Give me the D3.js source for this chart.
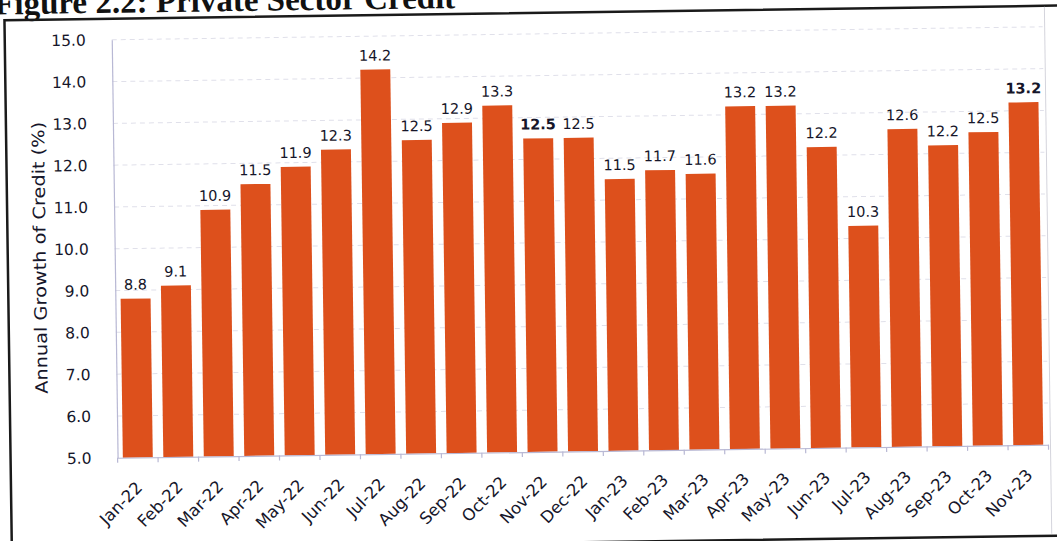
<!DOCTYPE html>
<html>
<head>
<meta charset="utf-8">
<script src="https://cdn.jsdelivr.net/npm/d3@7"></script>
<style>
  html, body { margin: 0; padding: 0; background: #ffffff; }
  svg { display: block; }
</style>
</head>
<body>
<svg id="chart" width="1057" height="541"></svg>
<script>
const months = ["Jan-22","Feb-22","Mar-22","Apr-22","May-22","Jun-22","Jul-22","Aug-22","Sep-22","Oct-22","Nov-22","Dec-22",
                "Jan-23","Feb-23","Mar-23","Apr-23","May-23","Jun-23","Jul-23","Aug-23","Sep-23","Oct-23","Nov-23"];
const credit = [8.8, 9.1, 10.9, 11.5, 11.9, 12.3, 14.2, 12.5, 12.9, 13.3, 12.5, 12.5,
                11.5, 11.7, 11.6, 13.2, 13.2, 12.2, 10.3, 12.6, 12.2, 12.5, 13.2];
const boldLabels = ["Nov-22", "Nov-23"];
const yTicks = [5, 6, 7, 8, 9, 10, 11, 12, 13, 14, 15];
const titleText = "Figure 2.2: Private Sector Credit";
const yTitle = "Annual Growth of Credit (%)";

(function () {
const svg = d3.select("#chart");
svg.append("rect").attr("width", 1057).attr("height", 541).attr("fill", "#ffffff");

// whole scan is slightly rotated
const root = svg.append("g").attr("transform", "rotate(-0.8, 528, 270)");

const textCol = "#16162a";
const font = "'DejaVu Sans', Verdana, sans-serif";

// Title
root.append("text")
  .attr("x", -2).attr("y", 7)
  .attr("font-family", "'Liberation Serif', 'Times New Roman', serif")
  .attr("font-weight", "bold")
  .attr("font-size", 33)
  .attr("fill", "#111")
  .text(titleText);

// Frame
root.append("rect")
  .attr("x", 8).attr("y", 13)
  .attr("width", 1080).attr("height", 530)
  .attr("fill", "none")
  .attr("stroke", "#1a1a1a")
  .attr("stroke-width", 2.5);

// faint chart-area border at right
root.append("line")
  .attr("x1", 1048).attr("x2", 1048)
  .attr("y1", 14).attr("y2", 541)
  .attr("stroke", "#d4d4dc").attr("stroke-width", 1);

const pLeft = 115, pRight = 1046, pTop = 34, pBottom = 452;

const x = d3.scaleBand().domain(months).range([pLeft, pRight]).paddingInner(0.26).paddingOuter(0.13);
const y = d3.scaleLinear().domain([5, 15]).range([pBottom, pTop]);

// gridlines
root.append("g")
  .selectAll("line")
  .data(yTicks.filter(t => t > 5))
  .join("line")
  .attr("x1", pLeft).attr("x2", pRight)
  .attr("y1", d => y(d)).attr("y2", d => y(d))
  .attr("stroke", "#e0e0ea")
  .attr("stroke-width", 1)
  .attr("stroke-dasharray", "5,4");

// bars
root.append("g")
  .selectAll("rect")
  .data(months)
  .join("rect")
  .attr("x", d => x(d))
  .attr("width", x.bandwidth())
  .attr("y", (d, i) => y(credit[i]))
  .attr("height", (d, i) => y(5) - y(credit[i]))
  .attr("fill", "#dd501c");

// value labels
root.append("g")
  .selectAll("text")
  .data(months)
  .join("text")
  .attr("x", d => x(d) + x.bandwidth() / 2)
  .attr("y", (d, i) => y(credit[i]) - 9)
  .attr("text-anchor", "middle")
  .attr("font-family", font)
  .attr("font-size", 14.5)
  .attr("font-weight", d => boldLabels.includes(d) ? "bold" : "normal")
  .attr("fill", textCol)
  .text((d, i) => credit[i].toFixed(1));

// y axis
const yAxis = d3.axisLeft(y).tickValues(yTicks).tickFormat(d3.format(".1f")).tickSize(0).tickPadding(26);
const yg = root.append("g").attr("transform", `translate(${pLeft},0)`).call(yAxis);
yg.select(".domain").attr("stroke", "#b8b8d4").attr("stroke-width", 1.2);
yg.selectAll("text").attr("font-family", font).attr("font-size", 15.5).attr("fill", textCol);

// x axis
const xAxis = d3.axisBottom(x).tickSize(0).tickFormat(d => d);
const xg = root.append("g").attr("transform", `translate(0,${pBottom})`).call(xAxis);
xg.select(".domain").attr("stroke", "#b8b8d4").attr("stroke-width", 1.2);
xg.selectAll(".tick text")
  .attr("font-family", font)
  .attr("font-size", 16.5)
  .attr("fill", textCol)
  .attr("text-anchor", "end")
  .attr("dy", 0)
  .attr("y", 0)
  .attr("transform", "translate(5,31) rotate(-45)");

// band boundary tick marks
const bounds = months.map(m => x(m) - x.step() * x.paddingInner() / 2).concat([pRight]);
root.append("g")
  .selectAll("line")
  .data(bounds)
  .join("line")
  .attr("x1", d => d).attr("x2", d => d)
  .attr("y1", pBottom).attr("y2", pBottom + 5)
  .attr("stroke", "#b8b8d4").attr("stroke-width", 1.2);

// y title
root.append("text")
  .attr("transform", "translate(46,251) rotate(-90)")
  .attr("text-anchor", "middle")
  .attr("font-family", font)
  .attr("font-size", 17)
  .attr("fill", textCol)
  .attr("textLength", 272)
  .attr("lengthAdjust", "spacingAndGlyphs")
  .text(yTitle);
})();
</script>
</body>
</html>
